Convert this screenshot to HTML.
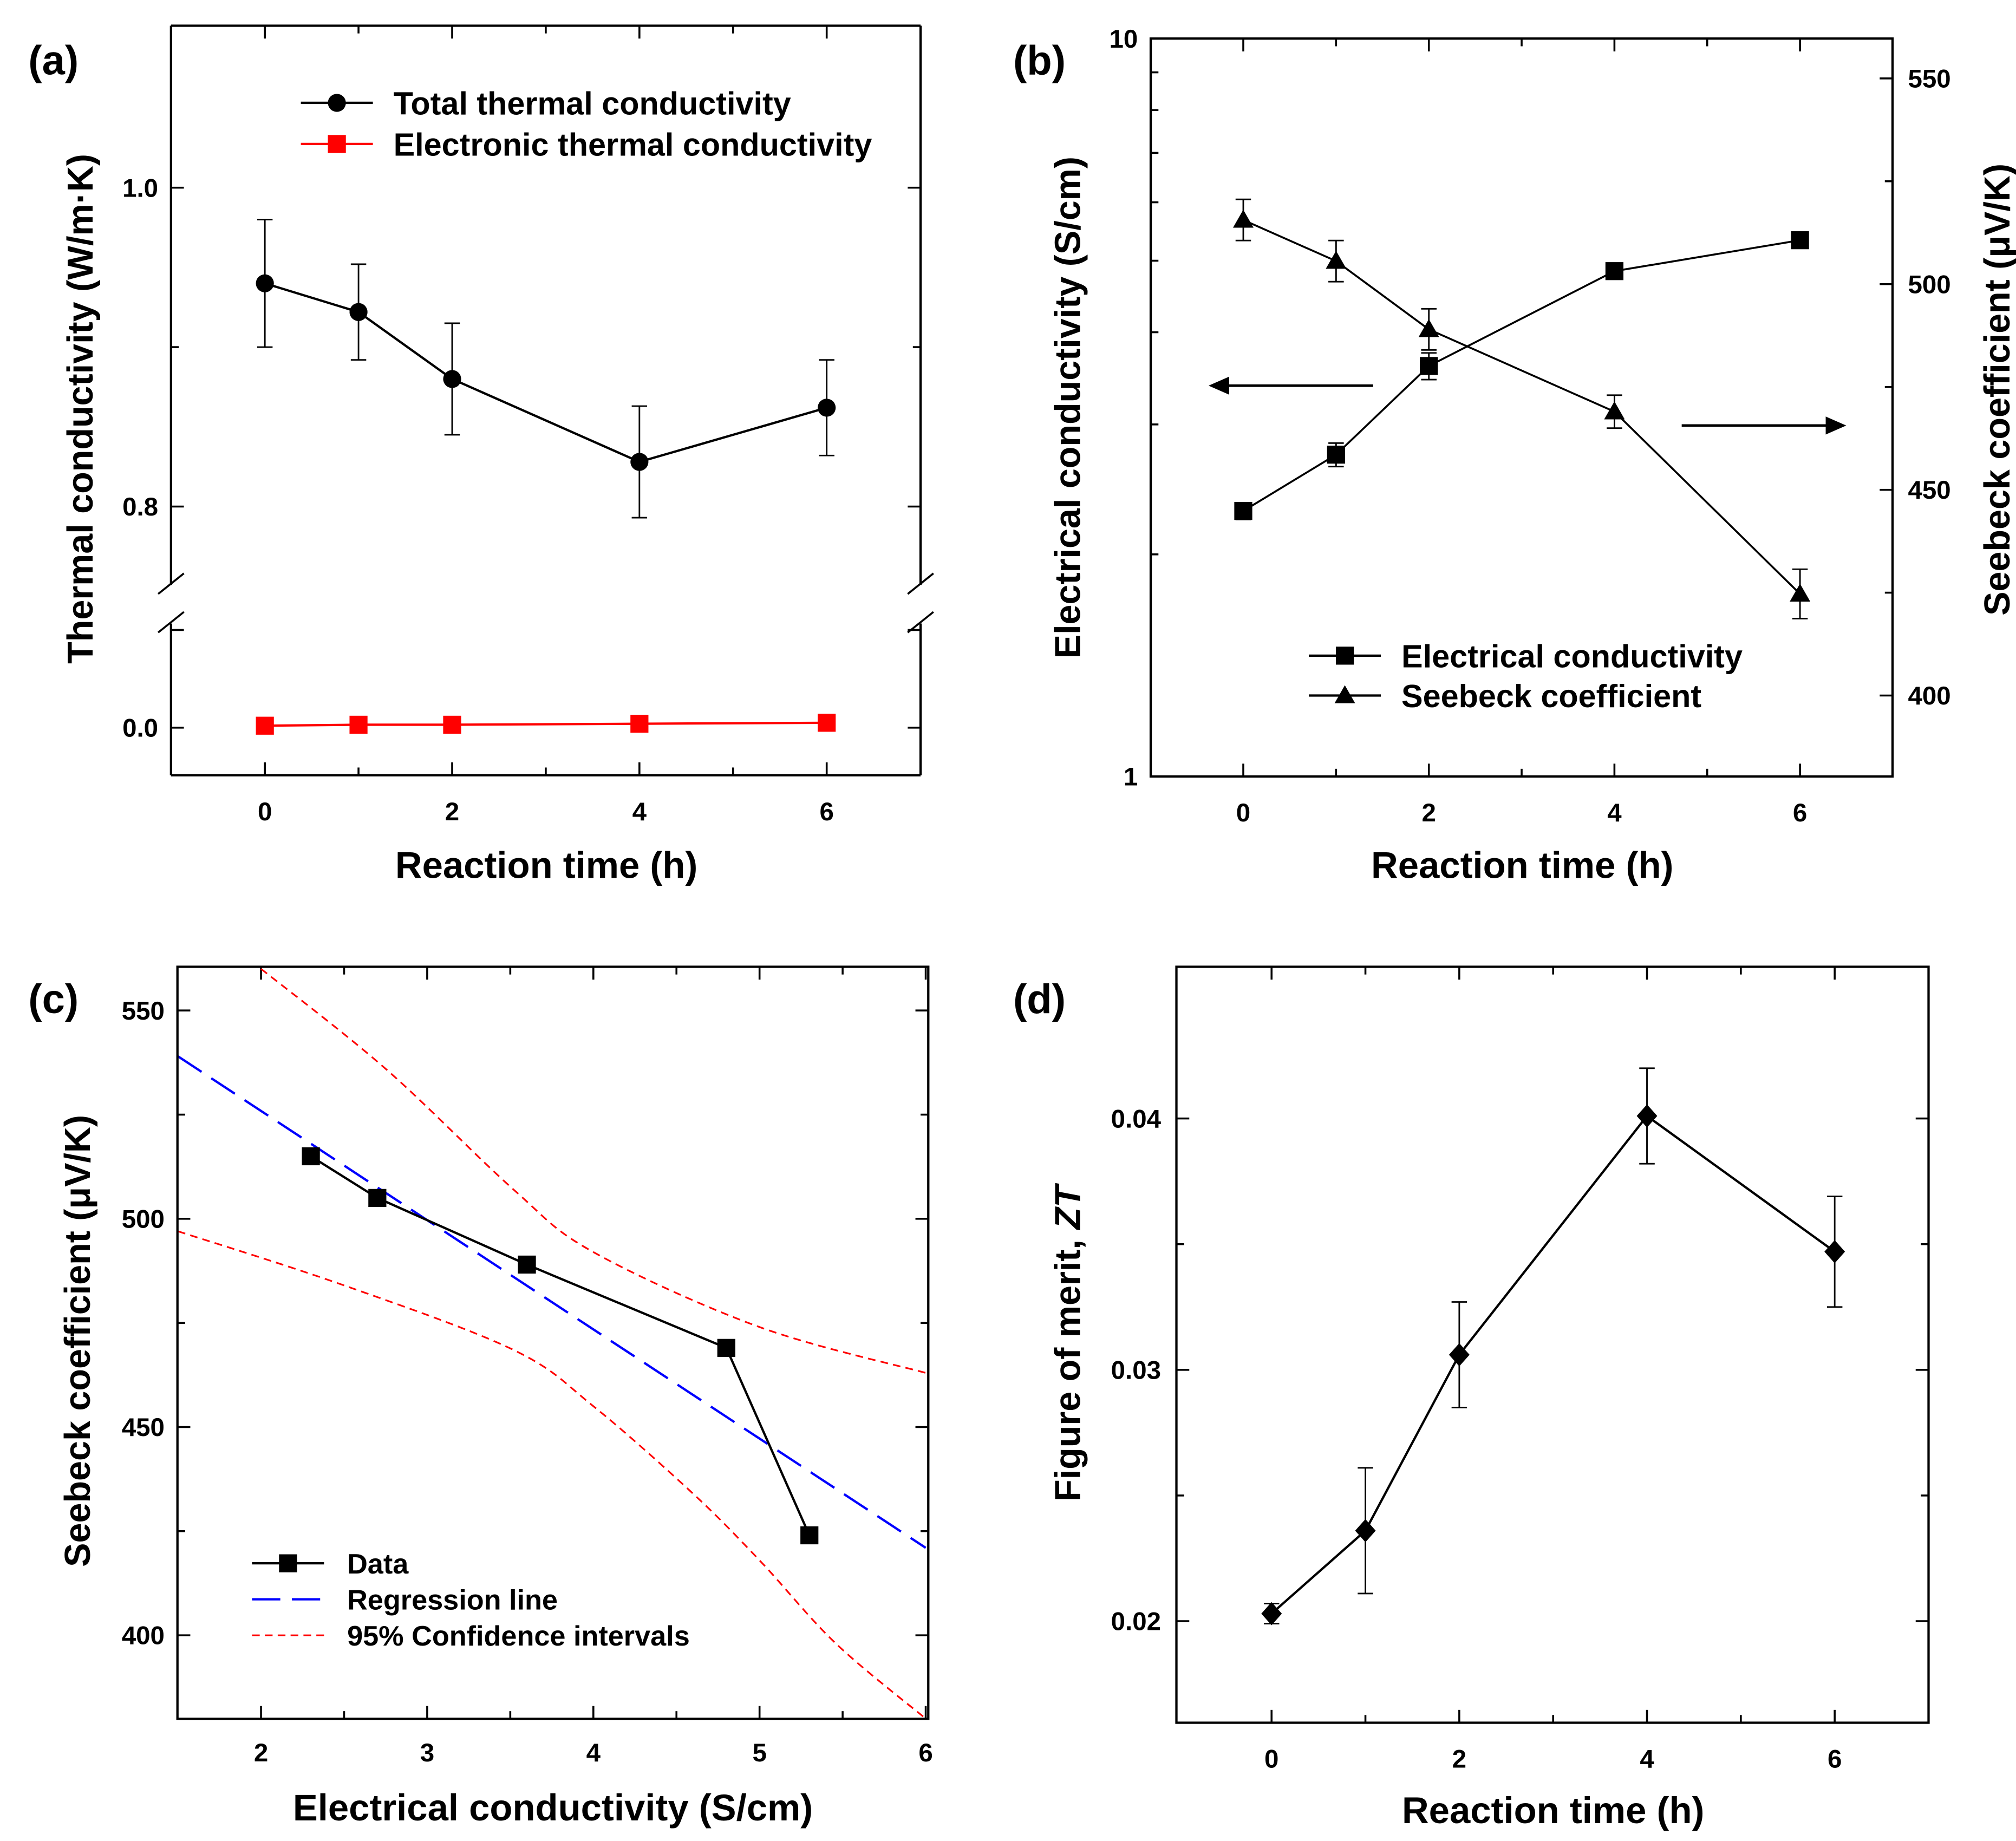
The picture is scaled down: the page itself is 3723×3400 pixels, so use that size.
<!DOCTYPE html>
<html><head><meta charset="utf-8"><style>
html,body{margin:0;padding:0;background:#fff}
svg{display:block}
text{font-family:"Liberation Sans",Arial,sans-serif;font-weight:bold;fill:#000}
</style></head><body>
<svg id="s" width="3723" height="3400" viewBox="0 0 1568 1432" xmlns="http://www.w3.org/2000/svg"></svg>
<script>
// ---- data ----
const timesA=[0,1,2,4,6];
const totalK=[0.94,0.922,0.88,0.828,0.862];
const totalKErr=[0.04,0.03,0.035,0.035,0.03];
const elecK=[0.002,0.003,0.003,0.004,0.005];
const timesB=[0,1,2,4,6];
const sigma=[2.29,2.73,3.6,4.84,5.33];
const sigmaErr=[0.06,0.1,0.15,0.12,0.08];
const seebeck=[515.6,505.6,489,469,424.7];
const seebeckErr=[5,5,5,4,6];
const sigmaC=[2.3,2.7,3.6,4.8,5.3];
const seebeckC=[515,505,489,469,424];
const regX=[1.5,6];const regY=[539,421];
const ciUpX=[2,2.75,3.52,4,5,6];const ciUpY=[560,536,507,492,474,463];
const ciLoX=[1.5,2.5,3.52,4,4.6,5,5.46,6];const ciLoY=[497,484,468.5,455,434,418,398,380];
const timesD=[0,1,2,4,6];
const zt=[0.0203,0.0236,0.0306,0.0401,0.0347];
const ztErr=[0.0004,0.0025,0.0021,0.0019,0.0022];

const TICK=20, TITLE=29, LEG=25;
const S=document.getElementById('s');const NS='http://www.w3.org/2000/svg';
function el(t,a,parent,name){const e=document.createElementNS(NS,t);for(const k in a)e.setAttribute(k,a[k]);


(parent||S).appendChild(e);return e;}
function line(x1,y1,x2,y2,c,w,name,dash){const a={x1,y1,x2,y2,stroke:c||'#000','stroke-width':w||1.5};if(dash)a['stroke-dasharray']=dash;return el('line',a,S,name);}
function txt(x,y,s,size,anchor,name,rot){const a={x,y,'font-size':size,'text-anchor':anchor||'middle'};if(rot)a.transform=`rotate(-90 ${x} ${y})`;const t=el('text',a,S,name);t.textContent=s;return t;}
function poly(pts,c,w,name,dash){const a={points:pts.map(p=>p.join(',')).join(' '),fill:'none',stroke:c,'stroke-width':w};if(dash)a['stroke-dasharray']=dash;return el('polyline',a,S,name);}
function smooth(pts,c,w,name,dash){let d=`M${pts[0][0]},${pts[0][1]}`;
 for(let i=0;i<pts.length-1;i++){const p0=pts[Math.max(0,i-1)],p1=pts[i],p2=pts[i+1],p3=pts[Math.min(pts.length-1,i+2)];
  d+=` C${p1[0]+(p2[0]-p0[0])/6},${p1[1]+(p2[1]-p0[1])/6} ${p2[0]-(p3[0]-p1[0])/6},${p2[1]-(p3[1]-p1[1])/6} ${p2[0]},${p2[1]}`;}
 const a={d,fill:'none',stroke:c,'stroke-width':w};if(dash)a['stroke-dasharray']=dash;return el('path',a,S,name);}
function marker(type,x,y,c,name){const r=7;
 if(type==='circle')el('circle',{cx:x,cy:y,r:r,fill:c},S,name);
 else if(type==='square')el('rect',{x:x-r,y:y-r,width:2*r,height:2*r,fill:c},S,name);
 else if(type==='tri')el('polygon',{points:`${x},${y-8} ${x-8},${y+6} ${x+8},${y+6}`,fill:c},S,name);
 else el('polygon',{points:`${x},${y-9} ${x+8},${y} ${x},${y+9} ${x-8},${y}`,fill:c},S,name);}
function errbar(x,y1,y2,name){line(x,y1,x,y2,'#000',1.2,name);line(x-6,y1,x+6,y1,'#000',1.2,name+'-cap');line(x-6,y2,x+6,y2,'#000',1.2,name+'-cap');}
function box(x0,y0,x1,y1,name){el('rect',{x:x0,y:y0,width:x1-x0,height:y1-y0,fill:'none',stroke:'#000','stroke-width':1.8},S,name);}

// ---- Panel A ----
{const X=v=>206+v*72.83, YU=v=>146+(1.0-v)*1240, YL=v=>566-v*760;
 const x0=133,x1=716,y0=20,y1=603;
 line(x0,y0,x1,y0,'#000',1.8,'a-top');line(x0,y1,x1,y1,'#000',1.8,'a-bottom');
 line(x0,y0,x0,455,'#000',1.8,'a-left-upper');line(x0,485,x0,y1,'#000',1.8,'a-left-lower');
 line(x1,y0,x1,455,'#000',1.8,'a-right-upper');line(x1,485,x1,y1,'#000',1.8,'a-right-lower');
 [[x0],[x1]].forEach(([x])=>{line(x-10,462,x+10,446,'#000',1.5,'a-break');line(x-10,492,x+10,476,'#000',1.5,'a-break');});
 [0.8,1.0].forEach(v=>{line(x0,YU(v),x0+10,YU(v),'#000',1.5,'a-ytick');line(x1,YU(v),x1-10,YU(v),'#000',1.5,'a-ytick');txt(x0-10,YU(v)+7,v.toFixed(1),TICK,'end','a-ytick-label');});
 [0.9].forEach(v=>{line(x0,YU(v),x0+6,YU(v),'#000',1.5,'a-yminor');line(x1,YU(v),x1-6,YU(v),'#000',1.5,'a-yminor');});
 [0,0.1].forEach(v=>{line(x0,YL(v),x0+10,YL(v),'#000',1.5,'a-ytick');line(x1,YL(v),x1-10,YL(v),'#000',1.5,'a-ytick');});
 txt(x0-10,YL(0)+7,'0.0',TICK,'end','a-ytick-label');
 [0,2,4,6].forEach(v=>{line(X(v),y1,X(v),y1-10,'#000',1.5,'a-xtick');line(X(v),y0,X(v),y0+10,'#000',1.5,'a-xtick');txt(X(v),y1+35,String(v),TICK,'middle','a-xtick-label');});
 [1,3,5].forEach(v=>{line(X(v),y1,X(v),y1-6,'#000',1.5,'a-xminor');line(X(v),y0,X(v),y0+6,'#000',1.5,'a-xminor');});
 txt(425,683,'Reaction time (h)',TITLE,'middle','a-x-title');
 txt(72,318,'Thermal conductivity (W/m·K)',28,'middle','a-y-title',true);
 txt(22,58,'(a)',32,'start','panel-a-label');
 timesA.forEach((t,i)=>errbar(X(t),YU(totalK[i]-totalKErr[i]),YU(totalK[i]+totalKErr[i]),'a-errbar'));
 poly(timesA.map((t,i)=>[X(t),YU(totalK[i])]),'#000',1.8,'total-k-line');
 timesA.forEach((t,i)=>marker('circle',X(t),YU(totalK[i]),'#000','total-k-point'));
 poly(timesA.map((t,i)=>[X(t),YL(elecK[i])]),'#f00',1.8,'elec-k-line');
 timesA.forEach((t,i)=>marker('square',X(t),YL(elecK[i]),'#f00','elec-k-point'));
 line(234,80,290,80,'#000',1.8,'legend-total-line');marker('circle',262,80,'#000','legend-total-marker');txt(306,89,'Total thermal conductivity',LEG,'start','legend-total');
 line(234,112,290,112,'#f00',1.8,'legend-elec-line');marker('square',262,112,'#f00','legend-elec-marker');txt(306,121,'Electronic thermal conductivity',LEG,'start','legend-elec');
}
// ---- Panel B ----
{const X=v=>967+v*72.17, YL=v=>604-Math.log10(v)*574, YR=v=>61+(550-v)*3.2;
 const x0=895,x1=1472,y0=30,y1=604;box(x0,y0,x1,y1,'b-plot-frame');
 [1,10].forEach(v=>{line(x0,YL(v),x0+10,YL(v),'#000',1.5,'b-ytick');txt(x0-10,YL(v)+7,String(v),TICK,'end','b-ytick-label');});
 [2,3,4,5,6,7,8,9].forEach(v=>line(x0,YL(v),x0+6,YL(v),'#000',1.5,'b-yminor'));
 [400,450,500,550].forEach(v=>{line(x1,YR(v),x1-10,YR(v),'#000',1.5,'b-rtick');txt(x1+12,YR(v)+7,String(v),TICK,'start','b-rtick-label');});
 [425,475,525].forEach(v=>line(x1,YR(v),x1-6,YR(v),'#000',1.5,'b-rminor'));
 [0,2,4,6].forEach(v=>{line(X(v),y1,X(v),y1-10,'#000',1.5,'b-xtick');line(X(v),y0,X(v),y0+10,'#000',1.5,'b-xtick');txt(X(v),y1+35,String(v),TICK,'middle','b-xtick-label');});
 [1,3,5].forEach(v=>{line(X(v),y1,X(v),y1-6,'#000',1.5,'b-xminor');line(X(v),y0,X(v),y0+6,'#000',1.5,'b-xminor');});
 txt(1184,683,'Reaction time (h)',TITLE,'middle','b-x-title');
 txt(840,317,'Electrical conductivity (S/cm)',28,'middle','b-y-title',true);
 txt(1563,303,'Seebeck coefficient (μV/K)',28,'middle','b-right-title',true);
 txt(788,58,'(b)',32,'start','panel-b-label');
 timesB.forEach((t,i)=>errbar(X(t),YL(sigma[i]-sigmaErr[i]),YL(sigma[i]+sigmaErr[i]),'b-sigma-err'));
 timesB.forEach((t,i)=>errbar(X(t),YR(seebeck[i]-seebeckErr[i]),YR(seebeck[i]+seebeckErr[i]),'b-seebeck-err'));
 poly(timesB.map((t,i)=>[X(t),YL(sigma[i])]),'#000',1.5,'sigma-line');
 timesB.forEach((t,i)=>marker('square',X(t),YL(sigma[i]),'#000','sigma-point'));
 poly(timesB.map((t,i)=>[X(t),YR(seebeck[i])]),'#000',1.5,'seebeck-line');
 timesB.forEach((t,i)=>marker('tri',X(t),YR(seebeck[i]),'#000','seebeck-point'));
 line(945,300,1068,300,'#000',2,'left-arrow');el('polygon',{points:'940,300 956,293 956,307',fill:'#000'},S,'left-arrow-head');
 line(1308,331,1430,331,'#000',2,'right-arrow');el('polygon',{points:'1436,331 1420,324 1420,338',fill:'#000'},S,'right-arrow-head');
 line(1018,510,1074,510,'#000',1.8,'legend-sigma-line');marker('square',1046,510,'#000','legend-sigma-marker');txt(1090,519,'Electrical conductivity',LEG,'start','legend-sigma');
 line(1018,541,1074,541,'#000',1.8,'legend-seebeck-line');marker('tri',1046,541,'#000','legend-seebeck-marker');txt(1090,550,'Seebeck coefficient',LEG,'start','legend-seebeck');
}
// ---- Panel C ----
{const X=v=>203+(v-2)*129.25, Y=v=>786+(550-v)*3.24;
 const x0=138,x1=722,y0=752,y1=1337;
 const cp=el('clipPath',{id:'cc'},S,'c-clip');
 el('rect',{x:x0,y:y0,width:x1-x0,height:y1-y0},cp,'c-clip-rect');
 [400,450,500,550].forEach(v=>{line(x0,Y(v),x0+10,Y(v),'#000',1.5,'c-ytick');line(x1,Y(v),x1-10,Y(v),'#000',1.5,'c-ytick');txt(x0-10,Y(v)+7,String(v),TICK,'end','c-ytick-label');});
 [425,475,525].forEach(v=>{line(x0,Y(v),x0+6,Y(v),'#000',1.5,'c-yminor');line(x1,Y(v),x1-6,Y(v),'#000',1.5,'c-yminor');});
 [2,3,4,5,6].forEach(v=>{line(X(v),y1,X(v),y1-10,'#000',1.5,'c-xtick');line(X(v),y0,X(v),y0+10,'#000',1.5,'c-xtick');txt(X(v),y1+33,String(v),TICK,'middle','c-xtick-label');});
 [2.5,3.5,4.5,5.5].forEach(v=>{line(X(v),y1,X(v),y1-6,'#000',1.5,'c-xminor');line(X(v),y0,X(v),y0+6,'#000',1.5,'c-xminor');});
 txt(430,1416,'Electrical conductivity (S/cm)',TITLE,'middle','c-x-title');
 txt(70,1043,'Seebeck coefficient (μV/K)',28,'middle','c-y-title',true);
 txt(22,788,'(c)',32,'start','panel-c-label');
 const g=el('g',{'clip-path':'url(#cc)'},S,'c-plot-area');
 g.appendChild(poly(regX.map((x,i)=>[X(x),Y(regY[i])]),'#0000ff',1.8,'regression-line','22,9'));
 g.appendChild(smooth(ciUpX.map((x,i)=>[X(x),Y(ciUpY[i])]),'#ff0000',1.3,'ci-upper','6,4'));
 g.appendChild(smooth(ciLoX.map((x,i)=>[X(x),Y(ciLoY[i])]),'#ff0000',1.3,'ci-lower','6,4'));
 box(x0,y0,x1,y1,'c-plot-frame');
 poly(sigmaC.map((x,i)=>[X(x),Y(seebeckC[i])]),'#000',1.8,'c-data-line');
 sigmaC.forEach((x,i)=>marker('square',X(x),Y(seebeckC[i]),'#000','c-data-point'));
 line(196,1216,252,1216,'#000',1.8,'legend-data-line');marker('square',224,1216,'#000','legend-data-marker');txt(270,1224,'Data',22,'start','legend-data');
 line(196,1244,252,1244,'#00f',1.8,'legend-reg-line','22,9');txt(270,1252,'Regression line',22,'start','legend-reg');
 line(196,1272,252,1272,'#f00',1.3,'legend-ci-line','6,4');txt(270,1280,'95% Confidence intervals',22,'start','legend-ci');
}
// ---- Panel D ----
{const X=v=>989+v*73, Y=v=>870+(0.04-v)*19550;
 const x0=915,x1=1500,y0=752,y1=1340;box(x0,y0,x1,y1,'d-plot-frame');
 [0.02,0.03,0.04].forEach(v=>{line(x0,Y(v),x0+10,Y(v),'#000',1.5,'d-ytick');line(x1,Y(v),x1-10,Y(v),'#000',1.5,'d-ytick');txt(x0-12,Y(v)+7,v.toFixed(2),TICK,'end','d-ytick-label');});
 [0.025,0.035].forEach(v=>{line(x0,Y(v),x0+6,Y(v),'#000',1.5,'d-yminor');line(x1,Y(v),x1-6,Y(v),'#000',1.5,'d-yminor');});
 [0,2,4,6].forEach(v=>{line(X(v),y1,X(v),y1-10,'#000',1.5,'d-xtick');line(X(v),y0,X(v),y0+10,'#000',1.5,'d-xtick');txt(X(v),y1+35,String(v),TICK,'middle','d-xtick-label');});
 [1,3,5].forEach(v=>{line(X(v),y1,X(v),y1-6,'#000',1.5,'d-xminor');line(X(v),y0,X(v),y0+6,'#000',1.5,'d-xminor');});
 txt(1208,1418,'Reaction time (h)',TITLE,'middle','d-x-title');
 const t=txt(840,1045,'Figure of merit, ',28,'middle','d-y-title',true);
 const ts=document.createElementNS(NS,'tspan');ts.setAttribute('font-style','italic');ts.textContent='ZT';
 
 
 t.appendChild(ts);
 txt(788,788,'(d)',32,'start','panel-d-label');
 timesD.forEach((tt,i)=>errbar(X(tt),Y(zt[i]-ztErr[i]),Y(zt[i]+ztErr[i]),'d-errbar'));
 poly(timesD.map((tt,i)=>[X(tt),Y(zt[i])]),'#000',1.8,'zt-line');
 timesD.forEach((tt,i)=>marker('diamond',X(tt),Y(zt[i]),'#000','zt-point'));
}
</script>
</body></html>
